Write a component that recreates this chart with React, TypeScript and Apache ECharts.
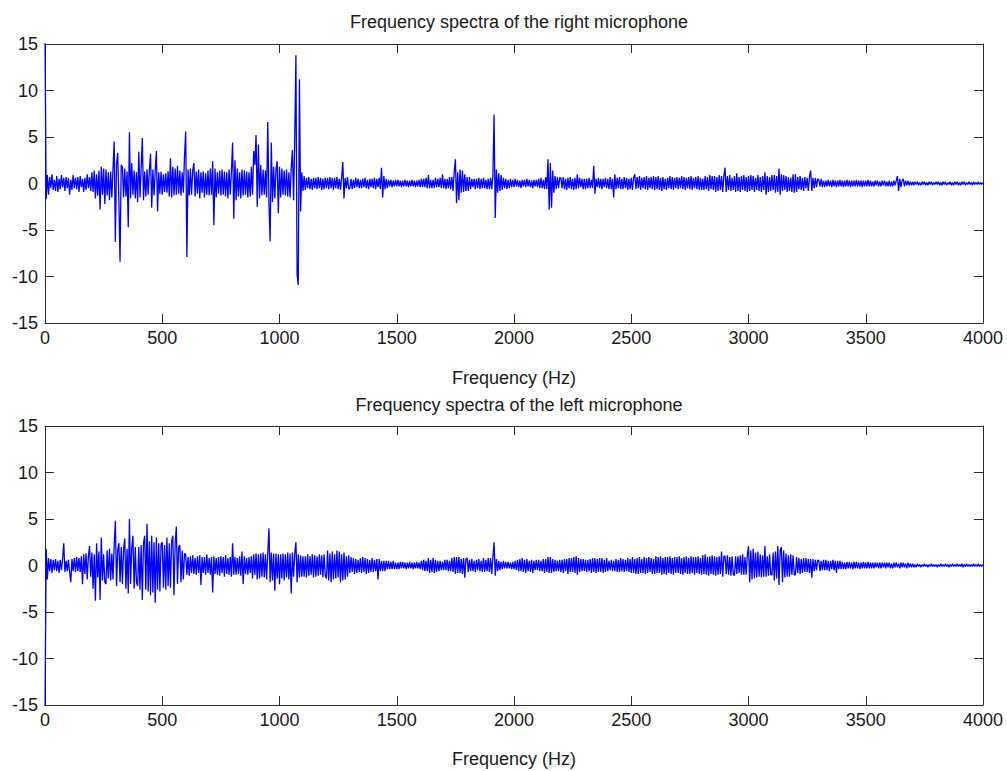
import React, { useEffect, useRef } from "react";
import * as echarts from "echarts";

// Frequency step between successive spectrum samples (Hz)
const FREQ_STEP = 5;
const X_TICKS = [0, 500, 1000, 1500, 2000, 2500, 3000, 3500, 4000];
const Y_TICKS = [-15, -10, -5, 0, 5, 10, 15];

// Right microphone spectrum, one value every 5 Hz from 0 to 4000 Hz (20 values per 100 Hz row)
const rightMic: number[] = [
  16, -1.7, 0.9, -1.2, 0.7, -0.5, 1.0, -0.7, 0.4, -0.8, 0.8, -0.9, 0.5, -0.6, 0.9, -0.4, 0.6, -0.8, 0.7, -0.5,
  0.6, -1.2, 0.4, -0.7, 0.9, -0.5, 0.6, -0.6, 0.7, -0.9, 0.8, -0.4, 0.5, -0.9, 0.6, -0.7, 1.0, -0.5, 0.7, -0.8,
  1.2, -0.9, 1.4, -1.6, 1.0, -1.3, 1.4, -2.8, 1.8, -1.2, 1.6, -2.2, 1.5, -1.3, 1.2, -1.8, 1.3, -1.5, 1.6, 4.5,
  -6.3, 2.1, 3.3, -1.8, -8.4, 2.0, 1.8, -1.5, 1.6, -1.4, 1.3, -4.7, 5.5, -1.6, 2.2, -1.2, 1.4, -1.6, 1.2, -2.0,
  3.4, -1.5, 1.6, 4.9, -1.8, 1.3, -1.4, 1.5, -1.2, 1.4, 3.2, -2.6, 1.5, -1.3, 1.4, 3.5, -3.0, 1.2, -1.1, 1.3,
  -1.2, 1.0, -0.9, 1.1, -1.0, 1.3, -1.4, 2.7, -1.5, 1.8, -1.3, 1.6, -1.2, 1.9, -1.1, 1.4, -1.3, 1.2, -1.0, 3.0,
  5.6, -7.9, 1.5, -1.3, 1.6, -1.2, 1.4, 2.2, -1.4, 1.3, -1.1, 1.5, -1.6, 1.2, -1.0, 1.3, -1.5, 1.1, -1.2, 1.4,
  -1.3, 1.6, -1.2, 2.4, -4.5, 1.6, -1.5, 1.2, -1.1, 1.4, -1.3, 1.5, -1.2, 1.3, -1.4, 1.2, -1.6, 1.5, -1.2, 1.3,
  4.4, -3.8, 2.5, -1.8, 1.6, -1.4, 1.2, -1.6, 1.5, -1.3, 1.4, -1.2, 1.3, -1.5, 1.2, -1.4, 1.8, -1.2, 3.5, 2.0,
  5.2, -2.5, 4.2, -1.6, 2.0, -1.3, 1.5, -1.2, 1.4, -1.5, 6.6, -2.0, -6.2, 4.4, -2.0, 1.8, -1.6, 1.5, 2.4, -3.2,
  1.8, -1.5, 1.6, -1.2, 1.4, -1.3, 1.5, -1.4, 1.2, -1.5, 1.6, 3.6, -1.8, 4.8, 13.8, -9.8, -10.9, 11.2, -3.0, 1.2,
  -0.8, 0.8, -0.7, 0.6, -0.5, 0.7, -0.6, 0.5, -0.7, 0.6, -0.5, 0.6, -0.6, 0.7, -0.5, 0.6, -0.7, 0.5, -0.6, 0.6,
  -0.5, 0.6, -0.6, 0.7, -0.5, 0.6, -0.7, 0.6, -0.5, 0.7, -0.6, 0.5, -0.7, 0.6, 2.3, -1.6, 0.6, -0.5, 0.7, -0.6,
  -0.5, 0.5, -0.6, 0.4, -0.5, 0.6, -0.4, 0.5, -0.5, 0.4, -0.5, 0.5, -0.4, 0.6, -0.5, 0.4, -0.6, 0.5, -0.4, 0.5,
  -0.5, 0.6, -0.6, 0.5, -0.4, 0.6, -0.6, 1.7, -1.5, 0.8, -0.6, 0.5, -0.5, 0.4, -0.3, 0.4, -0.4, 0.3, -0.3, 0.4,
  -0.3, 0.4, -0.3, 0.3, -0.4, 0.3, -0.3, 0.4, -0.3, 0.3, -0.4, 0.3, -0.3, 0.4, -0.3, 0.3, -0.4, 0.3, -0.3, 0.4,
  -0.4, 0.5, -0.4, 0.5, -0.4, 0.6, -0.5, 0.9, -0.5, 0.4, -0.5, 0.4, -0.5, 0.6, -0.4, 0.5, -0.4, 0.6, -0.5, 1.0,
  -0.5, 0.5, -0.6, 0.5, -0.5, 0.7, -0.6, 0.7, -0.8, 1.2, 2.6, -2.1, 1.2, -1.8, 1.5, -1.0, 1.4, -0.9, 1.0, -0.8,
  0.7, -0.8, 0.7, -0.6, 0.5, -0.4, 0.5, -0.6, 0.5, -0.5, 0.6, -0.6, 0.5, -0.5, 0.6, -0.5, 0.4, -0.6, 0.5, -0.6,
  0.6, -0.6, 0.8, 7.4, -3.7, 1.5, -1.0, 1.1, -0.8, 0.9, -0.7, 0.6, -0.5, 0.5, -0.6, 0.4, -0.5, 0.5, -0.4, 0.4,
  -0.4, 0.5, -0.3, 0.4, -0.4, 0.3, -0.5, 0.4, -0.3, 0.4, -0.4, 0.5, -0.3, 0.4, -0.4, 0.3, -0.5, 0.4, -0.3, 0.4,
  -0.4, 0.5, -0.5, 0.6, -0.5, 0.4, -0.6, 0.7, -0.6, 2.6, -2.8, 2.2, -2.6, 1.4, -1.0, 0.8, -0.6, 0.7, -0.5, 0.6,
  0.6, -0.5, 0.7, -0.6, 0.5, -0.7, 0.6, -0.5, 0.7, -0.6, 0.5, -0.7, 0.6, -0.6, 1.0, -0.5, 0.6, -0.4, 0.5, -0.6,
  0.5, -0.6, 0.5, -0.5, 0.6, -0.5, 0.4, -0.5, 1.9, -1.1, 0.5, -0.4, 0.6, -0.5, 0.5, -0.6, 0.5, -0.4, 0.6, -0.5,
  0.5, -0.6, 0.7, -0.6, 0.5, -1.5, 1.0, -0.6, 0.6, -0.5, 0.7, -0.6, 0.5, -0.6, 0.7, -0.5, 0.6, -0.7, 0.5, -0.6,
  0.6, -0.7, 0.6, 1.0, -0.6, 0.7, -0.5, 0.8, -0.7, 0.6, -0.5, 0.7, -0.6, 0.8, -0.7, 0.6, -0.5, 0.7, -0.6, 0.8,
  -0.7, 0.7, -0.6, 0.8, -0.7, 0.6, -0.8, 0.7, -0.6, 0.5, -0.7, 0.6, -0.5, 0.8, -0.6, 0.7, -0.7, 0.6, -0.5, 0.7,
  -0.6, 0.6, -0.5, 0.8, -0.6, 0.7, -0.7, 0.6, -0.5, 0.7, -0.6, 0.8, -0.7, 0.6, -0.5, 0.7, -0.6, 0.8, -0.7, 0.6,
  -0.7, 0.5, -0.7, 0.8, -0.6, 0.7, -0.8, 0.9, -0.6, 0.8, -0.7, 0.8, -0.9, 0.7, -0.8, 0.9, -0.7, 0.8, -0.9, 0.8,
  1.7, -0.9, 0.8, -0.7, 0.9, -0.8, 0.6, -0.7, 0.8, -0.9, 1.1, -0.8, 0.7, -0.9, 0.8, -0.7, 0.9, -0.8, 0.7, -0.9,
  0.8, -0.8, 0.9, -0.7, 0.8, -0.9, 0.6, -0.7, 0.9, -0.8, 0.7, -0.9, 0.8, -0.7, 1.2, -1.2, 0.8, -0.9, 0.7, -0.8,
  0.9, -0.7, 0.9, -1.0, 0.8, -0.9, 1.6, -1.2, 1.0, -0.8, 0.9, -0.7, 0.8, -0.9, 0.7, -0.8, 0.6, -0.9, 1.0, -1.0,
  1.0, -0.9, 0.7, -0.6, 0.8, -0.7, 0.6, -0.8, 0.7, -0.5, 0.6, -0.8, 0.7, 1.4, -0.8, 0.6, -0.5, 0.6, -0.4, 0.5,
  0.4, -0.3, 0.5, -0.4, 0.3, -0.4, 0.3, -0.3, 0.4, -0.3, 0.3, -0.4, 0.4, -0.3, 0.3, -0.4, 0.3, -0.3, 0.4, -0.3,
  0.3, -0.4, 0.3, -0.3, 0.4, -0.3, 0.3, -0.4, 0.3, -0.3, 0.3, -0.3, 0.4, -0.3, 0.3, -0.3, 0.3, -0.4, 0.3, -0.3,
  0.3, -0.3, 0.4, -0.3, 0.3, -0.3, 0.2, -0.3, 0.3, -0.2, 0.3, -0.3, 0.2, -0.3, 0.3, -0.2, 0.3, -0.3, 0.2, -0.3,
  0.3, -0.3, 0.2, -0.3, 0.3, -0.2, 0.3, 0.8, -0.8, 0.5, -0.4, 0.3, 0.5, -0.3, 0.3, -0.2, 0.3, -0.2, 0.2, -0.2,
  0.2, -0.2, 0.2, -0.1, 0.2, -0.2, 0.1, -0.2, 0.2, -0.1, 0.2, -0.2, 0.1, -0.2, 0.2, -0.1, 0.2, -0.2, 0.1, -0.1,
  0.2, -0.1, 0.2, -0.2, 0.1, -0.2, 0.2, -0.1, 0.2, -0.2, 0.1, -0.1, 0.2, -0.2, 0.1, -0.2, 0.2, -0.1, 0.2, -0.2,
  0.1, -0.2, 0.2, -0.1, 0.2, -0.2, 0.1, -0.1, 0.2, -0.1, 0.1, -0.2, 0.2, -0.1, 0.1, -0.1, 0.2, -0.1, 0.1, -0.1,
  0.1,
];

// Left microphone spectrum, one value every 5 Hz from 0 to 4000 Hz (20 values per 100 Hz row)
const leftMic: number[] = [
  -16, 1.8, -1.5, 0.8, -0.6, 0.7, -0.8, 0.6, -0.5, 0.7, -0.6, 0.5, -0.8, 0.6, -0.5, 0.7, 2.4, -0.7, 0.5, -0.6,
  0.6, -0.7, -1.8, 0.7, -0.6, 0.8, -0.7, 0.9, -0.6, 0.8, -0.7, 1.0, -2.0, 1.2, -0.9, 1.3, -1.5, 1.0, 2.1, -1.2,
  1.4, -2.5, 1.2, -3.8, 2.4, -1.3, 1.5, -3.7, 3.0, -1.6, 1.2, -1.8, -2.0, 1.6, -1.4, 1.8, -1.6, 1.3, -1.5, 2.2,
  4.8, -2.2, 1.6, 2.4, -1.8, 2.0, -2.0, 1.7, 2.9, -2.5, 1.8, -3.0, 5.0, -2.0, 1.9, 3.2, -2.5, 2.0, -1.8, -2.2,
  2.0, -2.6, 2.2, -3.7, 2.4, 3.2, -2.6, 4.5, -2.8, 2.6, -3.2, 3.2, -2.9, 2.5, -4.0, 3.0, -2.6, 2.4, -2.8, 2.3,
  2.5, -2.4, 2.2, -2.6, 3.0, -2.2, 2.4, -2.4, 2.6, 3.2, -3.2, 2.4, 4.2, -2.0, 2.0, 2.2, -1.8, 1.6, -1.5, 1.3,
  1.2, -1.0, 0.9, -1.1, 1.0, -0.8, 1.1, -0.9, 0.8, -1.0, 1.0, -0.8, 1.1, -2.1, 0.9, -0.8, 0.9, -1.0, 1.2, -0.8,
  0.8, -1.0, 0.9, -2.9, 1.0, -0.9, 0.8, -1.0, 0.9, -1.1, 1.0, -0.8, 0.9, -1.2, 1.1, -0.9, 0.8, -1.0, 0.9, -1.2,
  2.4, -1.0, 0.9, -1.0, 0.8, -0.9, 1.0, -1.1, 1.5, -2.0, 1.0, -0.9, 0.8, -1.0, 0.9, -0.8, 1.0, -1.4, 1.2, -1.0,
  1.3, -1.5, 1.2, -1.4, 1.3, -1.2, 1.4, -1.3, 1.2, -1.5, 1.3, 4.0, -1.8, 1.4, -1.6, 1.3, -2.7, 1.3, -1.4, 1.2,
  -2.0, 1.2, -1.4, 1.3, -1.6, 1.2, -1.3, 1.4, -1.5, 1.3, -3.0, 1.4, -1.2, 1.3, 2.5, -1.8, 1.2, -1.3, 1.1, -1.2,
  1.0, -1.2, 1.0, -1.3, 1.2, -1.1, 1.0, -1.0, 1.2, -1.3, 1.1, -1.2, 1.0, -1.1, 1.2, -1.0, 1.1, -1.3, 1.2, -1.1,
  -1.4, 1.6, -1.6, 1.3, -1.8, 1.5, -1.5, 1.2, -1.4, 1.6, -1.3, 1.5, -1.8, 1.2, -1.6, 1.4, -1.5, 1.0, -1.2, 1.1,
  -0.8, 0.9, -0.7, 0.8, -0.9, 0.7, -0.8, 0.6, -0.7, 0.8, -0.8, 0.9, -0.7, 0.8, -0.9, 0.7, -0.8, 0.6, -0.7, 0.8,
  -0.7, 0.6, -0.6, 0.7, -1.5, 0.7, -0.6, 0.5, -0.6, 0.5, -0.6, 0.5, -0.4, 0.5, -0.4, 0.4, -0.4, 0.5, -0.4, 0.3,
  -0.4, 0.3, -0.4, 0.4, -0.3, 0.4, -0.3, 0.3, -0.4, 0.3, -0.3, 0.4, -0.3, 0.3, -0.4, 0.3, -0.3, 0.4, -0.3, 0.3,
  -0.4, 0.5, -0.5, 0.6, -0.6, 0.5, -0.6, 0.8, -0.8, 0.6, -0.7, 0.8, -0.8, 0.6, -0.7, 0.5, -0.6, 0.5, -0.5, 0.4,
  -0.5, 0.6, -0.5, 0.6, -0.6, 0.5, -0.6, 0.8, -0.7, 0.9, -0.9, 0.9, -0.8, 0.9, -0.8, 0.7, -0.9, 0.8, -1.3, 0.7,
  0.8, -0.7, 0.6, -0.6, 0.7, -0.6, 0.5, -0.7, 0.6, -0.5, 0.7, -0.6, 0.5, -0.7, 0.8, -0.7, 0.6, -0.6, 0.8, -0.7,
  0.8, -0.9, 0.9, 2.5, -1.1, 0.7, -0.6, 0.5, -0.5, 0.4, -0.4, 0.5, -0.3, 0.4, -0.3, 0.4, -0.3, 0.3, -0.4, 0.4,
  -0.4, 0.5, -0.5, 0.6, -0.6, 0.7, -0.6, 0.8, -0.7, 0.6, -0.8, 0.7, -0.6, 0.5, -0.7, 0.6, -0.8, 0.5, -0.5, 0.6,
  -0.5, 0.6, -0.6, 0.5, -0.6, 0.7, -0.8, 0.7, -0.7, 0.9, -0.8, 0.9, -0.8, 0.7, -0.7, 0.6, -0.6, 0.5, -0.6, 0.6,
  -0.7, 0.6, -0.8, 0.7, -0.6, 0.7, -0.9, 0.8, -0.7, 0.8, -0.7, 0.9, -0.8, 1.0, -1.0, 0.8, -0.7, 0.7, -0.6, 0.7,
  -0.6, 0.6, -0.7, 0.6, -0.6, 0.7, -0.8, 0.8, -0.7, 0.8, -0.8, 0.7, -0.7, 0.8, -0.7, 0.8, -0.8, 0.6, -0.7, 0.8,
  -0.6, 0.5, -0.5, 0.6, -0.6, 0.5, -0.6, 0.7, -0.7, 0.6, -0.7, 0.8, -0.6, 0.7, -0.7, 0.6, -0.6, 0.8, -0.7, 0.7,
  -0.8, 0.9, -0.8, 0.7, -0.9, 0.8, -0.9, 0.9, -0.8, 0.7, -0.8, 0.9, -0.9, 0.8, -0.8, 0.9, -0.7, 0.8, -0.9, 0.7,
  -0.9, 1.0, -0.8, 0.9, -0.8, 1.0, -1.0, 0.8, -0.9, 0.9, -1.0, 0.9, -0.8, 1.0, -0.9, 0.8, -1.0, 0.9, -0.8, 0.9,
  -0.8, 1.0, -0.9, 0.8, -1.0, 0.9, -0.8, 1.0, -0.9, 0.8, -0.9, 1.0, -0.8, 0.9, -1.0, 0.9, -0.8, 1.0, -0.9, 0.8,
  -1.0, 1.1, -0.9, 1.2, -1.0, 0.9, -1.1, 1.0, -0.9, 1.1, -1.0, 1.0, -1.1, 0.9, -1.0, 1.0, -0.9, 1.5, -1.2, 1.0,
  1.0, -0.9, 1.1, -1.0, 0.9, -1.1, 1.0, -0.9, -1.1, 1.0, -0.9, 1.0, -0.8, 1.1, -1.0, 1.2, -1.0, 0.9, -1.0, 1.1,
  2.1, -1.8, 1.6, -1.5, 1.8, -1.4, 1.4, -1.3, 1.5, -1.2, 1.2, -1.3, 1.1, -1.2, 2.1, -1.2, 1.0, -1.1, 1.2, -1.0,
  -1.0, 1.4, -1.6, 1.5, -1.4, 2.1, -2.1, 1.6, 2.0, -1.8, 1.6, -1.3, 1.3, -1.2, 1.1, -1.2, 1.2, -1.0, 1.1, -1.0,
  -1.0, 0.9, -0.8, 0.8, -0.9, 0.7, -0.8, 0.8, -0.7, 0.8, -0.7, 0.7, -0.8, 0.7, -1.3, 0.7, -0.6, 0.6, -0.5, 0.6,
  0.5, -0.6, 0.5, -0.5, 0.6, -0.5, 0.6, -0.5, 0.5, -0.6, 0.5, -0.4, 0.6, -0.5, 0.5, -0.8, 0.5, -0.4, 0.5, -0.4,
  0.4, -0.4, 0.3, -0.4, 0.4, -0.3, 0.4, -0.3, 0.3, -0.4, 0.4, -0.3, 0.4, -0.3, 0.3, -0.4, 0.3, -0.3, 0.4, -0.3,
  0.3, -0.3, 0.4, -0.3, 0.3, -0.3, 0.3, -0.3, 0.3, -0.2, 0.3, -0.3, 0.3, -0.3, 0.3, -0.2, 0.3, -0.3, 0.3, -0.2,
  0.3, -0.3, 0.2, -0.3, 0.3, -0.2, 0.3, -0.2, 0.2, -0.3, 0.3, -0.2, 0.3, -0.2, 0.2, -0.3, 0.3, -0.2, 0.2, -0.2,
  0.2, -0.2, 0.1, -0.2, 0.2, -0.1, 0.1, -0.2, 0.1, -0.1, 0.2, -0.1, 0.1, -0.2, 0.1, -0.1, 0.2, -0.1, 0.1, -0.1,
  0.1, -0.2, 0.1, -0.1, 0.2, -0.1, 0.1, -0.1, 0.2, -0.1, 0.1, -0.2, 0.1, -0.1, 0.2, -0.1, 0.1, -0.1, 0.2, -0.1,
  0.1, -0.1, 0.2, -0.2, 0.1, -0.1, 0.2, -0.1, 0.1, -0.1, 0.1, -0.1, 0.2, -0.1, 0.1, -0.1, 0.2, -0.1, 0.1, -0.1,
  0.1,
];

const TITLES = [
  "Frequency spectra of the right microphone",
  "Frequency spectra of the left microphone",
];
const X_NAME = "Frequency (Hz)";

const FONT = "'Liberation Sans', Arial, Helvetica, sans-serif";
const AXIS_COLOR = "#2b2b2b";
const TEXT_COLOR = "#1a1a1a";
const FONT_SIZE = 18;

export default function App() {
  const ref = useRef<HTMLDivElement>(null);

  useEffect(() => {
    if (!ref.current) return;
    const chart = echarts.init(ref.current, undefined, { renderer: "svg" });

    const xMin = X_TICKS[0];
    const xMax = X_TICKS[X_TICKS.length - 1];
    const xInt = X_TICKS[1] - X_TICKS[0];
    const yMin = Y_TICKS[0];
    const yMax = Y_TICKS[Y_TICKS.length - 1];
    const yInt = Y_TICKS[1] - Y_TICKS[0];

    const grids = [
      { left: 45, top: 44, width: 938, height: 279 },
      { left: 45, top: 426, width: 938, height: 279 },
    ];
    const nameGaps = [46, 45];

    const tick = { show: true, inside: true, length: 9, lineStyle: { color: AXIS_COLOR, width: 1 } };
    const line = { show: true, onZero: false, lineStyle: { color: AXIS_COLOR, width: 1 } };
    const label = {
      color: TEXT_COLOR, fontSize: FONT_SIZE, fontFamily: FONT,
      formatter: (v: number) => String(v),
    };

    const xAxes: any[] = [];
    const yAxes: any[] = [];
    grids.forEach((_, g) => {
      xAxes.push({
        gridIndex: g, type: "value", position: "bottom", min: xMin, max: xMax, interval: xInt,
        axisLine: line, axisTick: tick, splitLine: { show: false },
        axisLabel: { ...label, margin: 6 },
        name: X_NAME, nameLocation: "middle", nameGap: nameGaps[g],
        nameTextStyle: { color: TEXT_COLOR, fontSize: FONT_SIZE, fontFamily: FONT },
      });
      xAxes.push({
        gridIndex: g, type: "value", position: "top", min: xMin, max: xMax, interval: xInt,
        axisLine: line, axisTick: tick, splitLine: { show: false }, axisLabel: { show: false },
      });
      yAxes.push({
        gridIndex: g, type: "value", position: "left", min: yMin, max: yMax, interval: yInt,
        axisLine: line, axisTick: tick, splitLine: { show: false },
        axisLabel: { ...label, margin: 7 },
      });
      yAxes.push({
        gridIndex: g, type: "value", position: "right", min: yMin, max: yMax, interval: yInt,
        axisLine: line, axisTick: tick, splitLine: { show: false }, axisLabel: { show: false },
      });
    });

    const toPoints = (arr: number[]) => arr.map((v, i) => [i * FREQ_STEP, v]);
    const titleStyle = { color: TEXT_COLOR, fontSize: FONT_SIZE, fontWeight: "normal", fontFamily: FONT };

    chart.setOption({
      animation: false,
      backgroundColor: "#ffffff",
      title: [
        { text: TITLES[0], left: 514, top: 8, textAlign: "center", textStyle: titleStyle },
        { text: TITLES[1], left: 514, top: 391, textAlign: "center", textStyle: titleStyle },
      ],
      grid: grids,
      xAxis: xAxes,
      yAxis: yAxes,
      series: [
        {
          type: "line", xAxisIndex: 0, yAxisIndex: 0, data: toPoints(rightMic),
          showSymbol: false, symbol: "none", clip: true, silent: true,
          lineStyle: { color: "#0000ff", width: 1.3 },
        },
        {
          type: "line", xAxisIndex: 2, yAxisIndex: 2, data: toPoints(leftMic),
          showSymbol: false, symbol: "none", clip: true, silent: true,
          lineStyle: { color: "#0000ff", width: 1.3 },
        },
      ],
    });

    return () => chart.dispose();
  }, []);

  return (
    <div
      ref={ref}
      style={{ position: "fixed", left: 0, top: 0, width: 1007, height: 771, background: "#fff" }}
    />
  );
}
